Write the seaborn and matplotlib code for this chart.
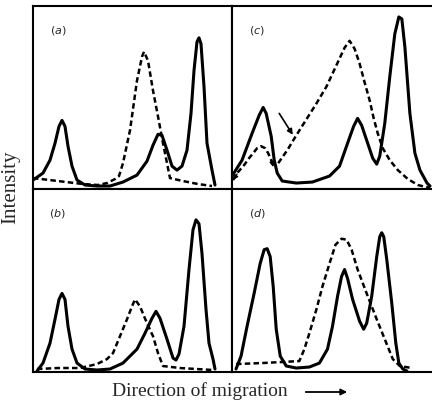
import matplotlib
matplotlib.use("Agg")
import matplotlib.pyplot as plt
import seaborn as sns

# densitometer traces; x = position along the gel,
# y = intensity (both in arbitrary units of the panel)
a_solid_x = [0, 10, 17, 22, 26, 29, 32, 35, 39, 44, 52, 64, 77, 90, 104, 114, 120, 125, 129,
             134, 139, 144, 149, 154, 158, 161, 164, 166, 168, 171, 174, 179, 182]
a_solid_y = [8, 15, 28, 45, 62, 68, 62, 42, 22, 8, 3, 2, 2, 6, 13, 27, 43, 54, 53,
             38, 22, 18, 22, 38, 75, 118, 147, 151, 145, 102, 45, 18, 3]
a_dash_x = [0, 25, 50, 65, 74, 82, 86, 90, 97, 104, 109, 111, 115, 120, 125, 130, 134, 137, 150, 165, 179]
a_dash_y = [10, 7, 4, 3, 5, 9, 12, 25, 58, 108, 132, 137, 128, 98, 72, 45, 25, 10, 7, 4, 2]

b_solid_x = [4, 10, 17, 22, 26, 29, 32, 35, 39, 44, 52, 64, 77, 90, 104, 112, 119, 123, 127,
             134, 140, 143, 146, 151, 156, 160, 163, 166, 169, 173, 176, 180, 182]
b_solid_y = [0, 8, 28, 52, 72, 78, 72, 45, 22, 8, 2, 1, 2, 8, 22, 38, 53, 60, 53,
             32, 13, 11, 17, 45, 102, 142, 152, 148, 118, 62, 28, 12, 2]
b_dash_x = [4, 25, 47, 64, 74, 80, 87, 94, 99, 102, 107, 114, 120, 125, 130, 147, 180]
b_dash_y = [2, 3, 3, 7, 12, 18, 35, 52, 65, 72, 65, 48, 35, 18, 5, 3, 1]

c_solid_x = [0, 10, 20, 27, 31, 34, 39, 42, 45, 50, 64, 80, 97, 107, 115, 121, 125, 129, 134,
             140, 144, 147, 152, 157, 162, 166, 169, 172, 177, 182, 187, 194, 197]
c_solid_y = [12, 28, 55, 73, 81, 75, 52, 28, 15, 7, 5, 6, 12, 22, 45, 62, 70, 63, 48,
             30, 24, 32, 65, 112, 155, 172, 170, 142, 75, 35, 18, 5, 2]
c_dash1_x = [1, 6, 12, 17, 21, 25, 29, 33, 36, 39, 41]
c_dash1_y = [8, 16, 23, 30, 35, 40, 42, 40, 35, 28, 22]
c_dash2_x = [46, 55, 64, 74, 84, 94, 100, 106, 112, 117, 122, 127, 132, 137, 141, 145, 150,
             157, 165, 175, 185, 197]
c_dash2_y = [25, 38, 53, 69, 85, 102, 115, 128, 141, 148, 140, 125, 106, 88, 70, 55, 40,
             28, 18, 9, 3, 0]

d_solid_x = [4, 9, 15, 22, 28, 32, 35, 38, 41, 44, 48, 54, 64, 77, 87, 95, 100, 105, 109, 112,
             115, 120, 127, 131, 134, 139, 144, 147, 149, 151, 154, 159, 163, 166, 170, 174]
d_solid_y = [2, 15, 45, 78, 108, 122, 123, 115, 85, 42, 15, 5, 3, 4, 8, 22, 45, 75, 95, 102,
             93, 72, 50, 42, 48, 75, 115, 135, 139, 135, 112, 68, 28, 8, 2, 0]
d_dash_x = [4, 30, 67, 72, 77, 84, 90, 97, 103, 109, 114, 119, 125, 134, 144, 152, 160, 167, 179]
d_dash_y = [7, 8, 10, 22, 38, 62, 85, 108, 127, 133, 132, 122, 102, 78, 52, 32, 12, 5, 3]

sns.set_style("white")
plt.rcParams["font.family"] = ["Liberation Serif", "DejaVu Serif"]
plt.rcParams["mathtext.fontset"] = "dejavusans"

W, H = 432, 402
fig = plt.figure(figsize=(W / 100, H / 100), dpi=100)


def panel_axes(x0, y_top, w, h):
    return fig.add_axes([x0 / W, (H - y_top - h) / H, w / W, h / H])


def draw_panel(ax, label, solid, dashed, right=False):
    sns.lineplot(x=solid[0], y=solid[1], sort=False, estimator=None,
                 color="black", lw=2.2, ax=ax)
    for dx, dy in dashed:
        sns.lineplot(x=dx, y=dy, sort=False, estimator=None, color="black",
                     lw=1.8, linestyle=(0, (2.2, 1.3)), ax=ax)
    ax.set_xlim(0, 199)
    ax.set_ylim(-1, 183)
    ax.set_xticks([])
    ax.set_yticks([])
    ax.set_xlabel("")
    ax.set_ylabel("")
    for side, sp in ax.spines.items():
        sp.set_color("black")
        sp.set_linewidth(1.5)
    if right:
        ax.spines["right"].set_visible(False)
    ax.text(0.125, 0.87, f"(${label}$)", transform=ax.transAxes, ha="center",
            va="center", fontsize=8, family="DejaVu Sans")


ax_a = panel_axes(33, 7, 199, 183)
ax_c = panel_axes(232, 7, 200, 183)
ax_b = panel_axes(33, 190, 199, 183)
ax_d = panel_axes(232, 190, 200, 183)

draw_panel(ax_a, "a", (a_solid_x, a_solid_y), [(a_dash_x, a_dash_y)])
draw_panel(ax_b, "b", (b_solid_x, b_solid_y), [(b_dash_x, b_dash_y)])
draw_panel(ax_c, "c", (c_solid_x, c_solid_y),
           [(c_dash1_x, c_dash1_y), (c_dash2_x, c_dash2_y)], right=True)
draw_panel(ax_d, "d", (d_solid_x, d_solid_y), [(d_dash_x, d_dash_y)], right=True)

# pointer arrow and little arrowheads on the dashed trace in (c)
arrow = dict(arrowstyle="-|>", color="black", lw=1.2, mutation_scale=8, shrinkA=0, shrinkB=0)
ax_c.annotate("", xy=(60.5, 53.5), xytext=(47, 75), arrowprops=arrow)
head = dict(arrowstyle="-|>", color="black", lw=1.0, mutation_scale=7, shrinkA=0, shrinkB=0)
ax_c.annotate("", xy=(1, 8), xytext=(5, 14), arrowprops=head)
ax_c.annotate("", xy=(41, 21), xytext=(39.5, 28), arrowprops=head)

fig.text(10.5 / W, 1 - 187 / H, "Intensity", rotation=90, ha="center", va="center", fontsize=15)
fig.text(112 / W, 1 - 396.5 / H, "Direction of migration", ha="left", va="baseline", fontsize=14)
fig.add_artist(matplotlib.patches.FancyArrowPatch(
    (303 / W, 1 - 393 / H), (350 / W, 1 - 393 / H), transform=fig.transFigure,
    arrowstyle="-|>", mutation_scale=9, color="black", lw=1.3))

fig.savefig("out.png", dpi=100)
